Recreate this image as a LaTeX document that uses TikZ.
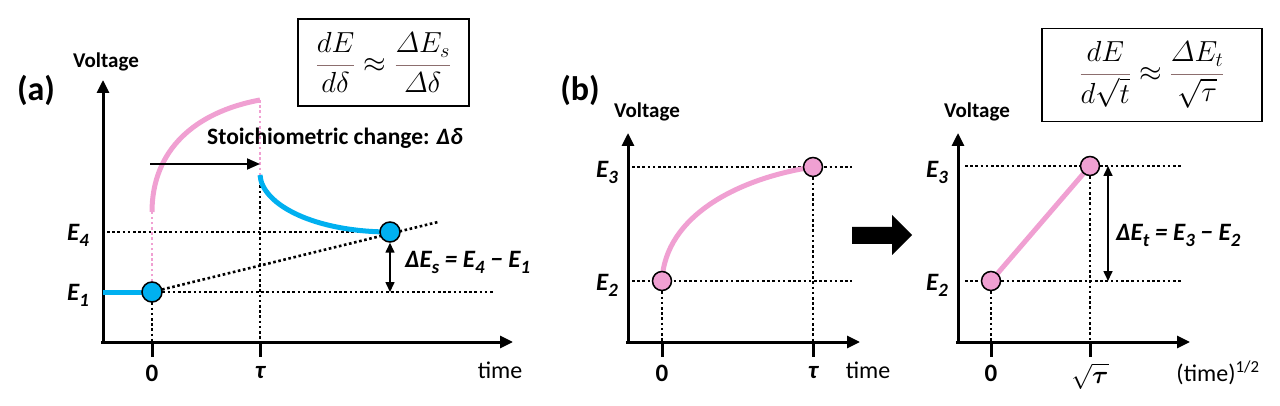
\documentclass[tikz,border=0pt]{standalone}
\usepackage{fix-cm}
\usepackage{amsmath}
\usepackage{fontspec}
\setmainfont{Carlito}
\usepackage{xcolor}
\usepackage{tikz}
\usetikzlibrary{arrows.meta}

\definecolor{pk}{RGB}{240,160,210}
\definecolor{bl}{RGB}{0,176,240}
\definecolor{fb}{RGB}{140,110,110}

\newcommand{\lsub}[1]{\raisebox{-0.5ex}{\scalebox{0.75}{#1}}}
\newcommand{\bfr}[2]{{\color{fb}\dfrac{\color{black}#1}{\color{black}#2}}}

\begin{document}
\begin{tikzpicture}[
x=1pt,y=-1pt,
ax/.style={line width=3pt, -{Triangle[length=13pt,width=12pt]}},
tk/.style={line width=3pt},
dt/.style={line width=2.6pt, dash pattern=on 2.6pt off 2.6pt},
pdt/.style={dt, pk},
crv/.style={line width=5pt},
ptb/.style={circle, draw, line width=1.5pt, fill=bl, minimum size=20pt, inner sep=0pt},
ptp/.style={ptb, fill=pk, minimum size=19pt},
dar/.style={line width=1.6pt, {Triangle[length=10pt,width=9pt]}-{Triangle[length=10pt,width=9pt]}},
sar/.style={line width=1.8pt, -{Triangle[length=13pt,width=11pt]}},
pl/.style={font=\fontsize{34}{40}\selectfont\bfseries},
vl/.style={font=\fontsize{21}{25}\selectfont\bfseries},
el/.style={font=\fontsize{25}{30}\selectfont\bfseries\itshape, inner sep=1pt},
tl/.style={font=\fontsize{25}{30}\selectfont\bfseries},
tm/.style={font=\fontsize{24}{28}\selectfont},
fbx/.style={draw, line width=1.3pt, inner sep=1pt, font=\fontsize{29}{34}\selectfont},
]
\useasboundingbox (0,0) rectangle (1280,406);

%panel (a)
\node[pl] (a) at (36,90) {(a)};
\node[vl] (va) at (106,62) {Voltage};
\draw[ax] (101,342) -- (513,342);
\draw[ax] (103,343.5) -- (103,80);
\draw[tk] (152,342) -- (152,357);
\draw[tk] (260,342) -- (260,357);

\coordinate (p1) at (152,292);
\coordinate (p4) at (390,232);
\coordinate (q1) at (390,292);
\coordinate (s) at (438,222);

\draw[dt] (107,232) -- (p4);
\draw[dt] (p1) -- (495,292);
\draw[dt] (p1) -- (s);
\draw[dt] (p1) -- (152,342);
\draw[dt] (260,175) -- (260,342);
\draw[pdt] (p1) -- (152,212);
\draw[pdt] (260,100) -- (260,175);

\draw[crv, bl] (103,292) -- (p1);
\draw[crv, pk] (152,212) .. controls (152,150) and (195,112) .. (260,100);
\draw[crv, bl] (260,175) .. controls (262,205) and (315,232) .. (p4);

\node[ptb] (c1) at (p1) {};
\node[ptb] (c4) at (p4) {};
\draw[dar] (c4) -- (q1);

\coordinate (sa) at (150,164);
\coordinate (sb) at (260,164);
\draw[sar] (sa) -- (sb);
\node[vl, font=\fontsize{23.5}{28}\selectfont\bfseries] (st) at (335,138) {Stoichiometric change: \textit{Δδ}};

\node[el] (e4) at (78,235) {E\lsub{4}};
\node[el] (e1) at (78,295) {E\lsub{1}};
\node[tl] (z0) at (152,373) {0};
\node[tl] (ta) at (260,373) {\itshape τ};
\node[tm] (ti) at (500,370) {time};
\node[el, anchor=west] (des) at (404,262) {ΔE\lsub{s} = E\lsub{4} − E\lsub{1}};

\node[fbx, minimum width=171pt, minimum height=87pt] (fa) at (383.5,62.5)
  {$\bfr{dE}{d\delta}\approx\bfr{\varDelta E_s}{\varDelta\delta}$};

%panel (b), left
\node[pl] (b) at (580,90) {(b)};
\node[vl] (vb) at (647,112) {Voltage};
\draw[ax] (626,342) -- (860,342);
\draw[ax] (628,343.5) -- (628,133);
\draw[tk] (662,342) -- (662,357);
\draw[tk] (813,342) -- (813,357);

\coordinate (q2) at (662,281);
\coordinate (q3) at (813,167);

\draw[dt] (632,167) -- (852,167);
\draw[dt] (632,281) -- (852,281);
\draw[dt] (q2) -- (662,342);
\draw[dt] (q3) -- (813,342);
\draw[crv, pk] (q2) .. controls (665,215) and (740,178) .. (q3);

\node[ptp] (c2) at (q2) {};
\node[ptp] (c3) at (q3) {};

\node[el] (e3b) at (607,172) {E\lsub{3}};
\node[el] (e2b) at (607,285) {E\lsub{2}};
\node[tl] (z0b) at (662,373) {0};
\node[tl] (tab) at (813,373) {\itshape τ};
\node[tm] (tib) at (868,370) {time};

%block arrow
\fill (852,227) -- (892,227) -- (892,215) -- (912,235) -- (892,255) -- (892,244) -- (852,244) -- cycle;

%panel (b), right
\node[vl] (vc) at (977,112) {Voltage};
\draw[ax] (956,342) -- (1190,342);
\draw[ax] (958,343.5) -- (958,133);
\draw[tk] (991,342) -- (991,357);
\draw[tk] (1090,342) -- (1090,357);

\coordinate (q5) at (991,281);
\coordinate (q6) at (1090,166);
\coordinate (d1) at (1108,166);
\coordinate (d2) at (1108,281);

\draw[dt] (965,166) -- (1182,166);
\draw[dt] (965,281) -- (1182,281);
\draw[dt] (q5) -- (991,342);
\draw[dt] (q6) -- (1090,342);
\draw[crv, pk] (q5) -- (q6);

\node[ptp] (c5) at (q5) {};
\node[ptp] (c6) at (q6) {};
\draw[dar] (d1) -- (d2);

\node[el] (e3c) at (937,172) {E\lsub{3}};
\node[el] (e2c) at (937,285) {E\lsub{2}};
\node[tl] (z0c) at (991,373) {0};
\node[tl] (tac) at (1090,376) {$\sqrt{\boldsymbol{\tau}}$};
\node[tm] (tic) at (1218,373) {(time)\textsuperscript{1/2}};
\node[el, anchor=west] (det) at (1115,235) {ΔE\lsub{t} = E\lsub{3} − E\lsub{2}};

\node[fbx, minimum width=220pt, minimum height=93pt] (fb) at (1152,75)
  {$\bfr{dE}{d\sqrt{t}}\approx\bfr{\varDelta E_t}{\sqrt{\tau}}$};

\end{tikzpicture}
\end{document}
